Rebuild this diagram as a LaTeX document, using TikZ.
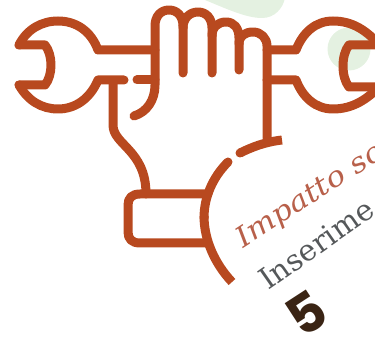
\documentclass[tikz,border=0pt]{standalone}
\usepackage{fontspec}
\setmainfont{DejaVu Serif}
\newfontfamily\numfont{Poppins}
\newfontfamily\headfont[ItalicFont={DejaVu Serif Italic},FakeStretch=1.12]{DejaVu Serif}
\definecolor{rust}{HTML}{B8491F}
\definecolor{leaf}{HTML}{E4F1E1}
\definecolor{title}{HTML}{B8604A}
\definecolor{body}{HTML}{55585A}
\definecolor{num}{HTML}{3A2414}
\tikzset{icon/.style={draw=rust,line width=9pt,line cap=round,line join=round},
 flat/.style={icon,line cap=butt},
 lbl/.style={inner sep=0pt,anchor=base west,transform shape}}
\begin{document}
\begin{tikzpicture}[x=1pt,y=-1pt,line width=1pt]
\useasboundingbox (0,0) rectangle (375,339);
\clip (0,0) rectangle (375,339);
% green blobs
\fill[leaf] (200,-2) .. controls (225,8) and (245,18) .. (262,18) .. controls (275,18) and (283,8) .. (285,-2) -- cycle;
\fill[leaf] (349,49) circle (21.5);
% left wrench
\draw[icon] (19,45) -- (45,45) .. controls (53,55) and (53,75) .. (45,85) -- (19,85);
\draw[icon] (19,45) .. controls (27,29) and (42,21) .. (58,21) .. controls (76,21) and (91,31) .. (98,50) -- (155,50);
\draw[icon] (19,85) .. controls (28,101) and (42,109) .. (58,109) .. controls (75,109) and (90,99) .. (98,80) -- (124,80);
\draw[icon] (137,80) -- (155,80);
% hand
\draw[icon] (134,116) .. controls (147,112) and (155,100) .. (155,85) -- (155,26) .. controls (155,16) and (161,10) .. (169,10) .. controls (177,10) and (183,16) .. (183,26) -- (183,73);
\draw[icon] (183,28) .. controls (183,18) and (190,12) .. (198,12) .. controls (206,12) and (212,18) .. (212,28) -- (212,73);
\draw[icon] (212,36) .. controls (212,27) and (218,22) .. (226,22) .. controls (234,22) and (239,28) .. (239,38) -- (239,70);
\draw[icon] (239,44) .. controls (239,36) and (245,32) .. (253,32) .. controls (261,32) and (267,38) .. (267,46) -- (267,138);
% right wrench
\draw[icon] (267,50) -- (296,50) .. controls (303,32) and (316,21) .. (333,21) .. controls (352,21) and (367,30) .. (382,48);
\draw[icon] (267,80) -- (296,80) .. controls (303,98) and (316,109) .. (333,109) .. controls (352,109) and (367,100) .. (382,84);
\draw[icon] (382,45) -- (349,45) .. controls (341,55) and (341,77) .. (349,87) -- (382,87);
% wrist
\draw[icon] (113,83) -- (113,125) .. controls (113,145) and (146,150) .. (146,194);
\draw[icon] (208,194) -- (140,194) .. controls (132,194) and (128,198) .. (128,205) -- (128,232) .. controls (128,239) and (132,243) .. (140,243) -- (208,243);
\draw[icon] (228,162) .. controls (212,178) and (204,198) .. (204,218);
\draw[flat] (204,216) .. controls (204,240) and (215,264) .. (232,282);
\draw[flat] (240,153) .. controls (252,147) and (265,142) .. (282,140);
\fill[rust] (240,153) circle (4.5);
% texts
\node[lbl,rotate=33,text=title,font=\headfont\itshape\fontsize{28}{28}\selectfont] (head) at (243,249) {Impatto so};
\node[lbl,rotate=35,text=body,font=\fontsize{29.5}{29.5}\selectfont] (sub) at (268,291) {Inserime};
\node[rotate=33,text=num,inner sep=0pt,font=\numfont\bfseries\fontsize{54}{54}\selectfont] (five) at (306,313) {5};
\end{tikzpicture}
\end{document}
